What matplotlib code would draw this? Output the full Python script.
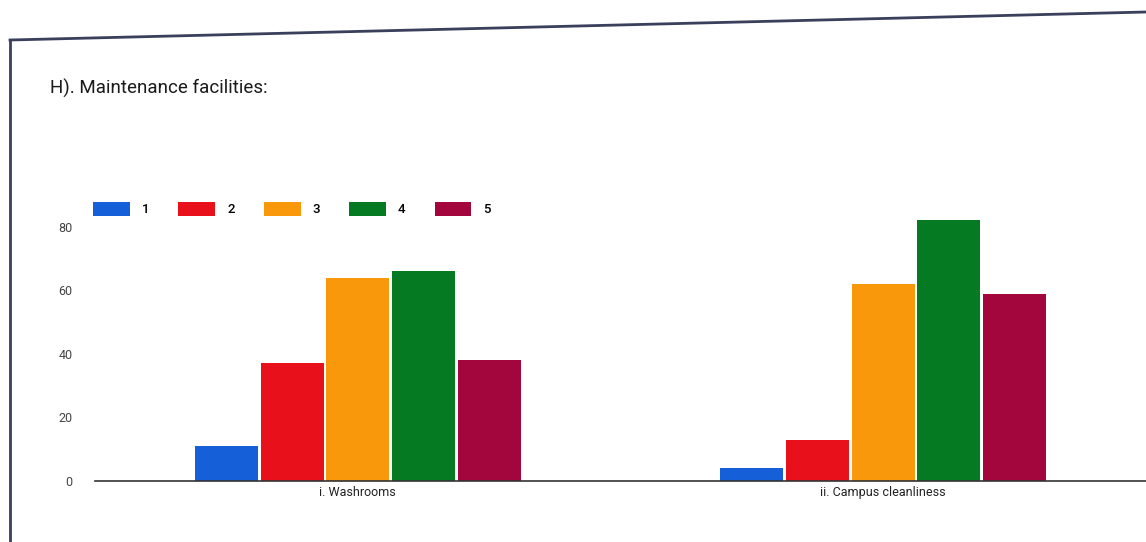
import numpy as np
import matplotlib
matplotlib.use("Agg")
import matplotlib.pyplot as plt
from matplotlib.lines import Line2D

# data
categories = ["i. Washrooms", "ii. Campus cleanliness"]
ratings = ["1", "2", "3", "4", "5"]
washrooms = [11, 37, 64, 66, 38]
campus = [4, 13, 62, 82, 59]
colors = ["#1560d8", "#e8101a", "#f8980a", "#067a22", "#a3053d"]

values = np.array([washrooms, campus])  # rows = category, cols = rating

fig = plt.figure(figsize=(11.46, 5.42), dpi=100)
fig.patch.set_facecolor("white")

# axes placed to match plot area (pixels -> figure fraction)
W, H = 1146, 542
ax = fig.add_axes([95 / W, (542 - 481) / H, (1146 - 95) / W, (481 - 195) / H])

x = np.arange(len(categories))
bw = 0.12
step = 0.125
for i, r in enumerate(ratings):
    ax.bar(x + (i - 2) * step, values[:, i], width=bw, color=colors[i], label=r, zorder=2)

ax.set_xlim(-0.5, 1.5)
ax.set_ylim(0, 90)
ax.set_yticks([0, 20, 40, 60, 80])
ax.set_xticks(x)
ax.set_xticklabels(categories, fontsize=9, color="#222222", family="Roboto")
ax.tick_params(axis="both", length=0)
ax.tick_params(axis="y", labelsize=9, labelcolor="#444444", pad=16)
for lbl in ax.get_yticklabels():
    lbl.set_family("Roboto")

for s in ["top", "right", "left"]:
    ax.spines[s].set_visible(False)
ax.spines["bottom"].set_color("#333333")
ax.spines["bottom"].set_linewidth(1.2)

ax.legend(loc="upper left", bbox_to_anchor=(81 / W, (542 - 190) / H), bbox_transform=fig.transFigure,
          ncol=5, frameon=False, handlelength=2.8, handleheight=1.25, handletextpad=0.9,
          columnspacing=2.2, prop={"family": "Roboto", "size": 9.5, "weight": "medium"})

fig.text(50 / W, (542 - 88) / H, "H). Maintenance facilities:", fontsize=13.5, family="Roboto",
         color="#1a1a1a", va="center", ha="left")

# scanned card border
fig.add_artist(Line2D([10 / W, 1.0], [(542 - 40) / H, (542 - 12) / H], transform=fig.transFigure,
                      color="#3a3f5c", lw=2))
fig.add_artist(Line2D([10 / W, 10 / W], [(542 - 40) / H, 0], transform=fig.transFigure,
                      color="#3a3f5c", lw=2))

fig.savefig("out.png", dpi=100)
